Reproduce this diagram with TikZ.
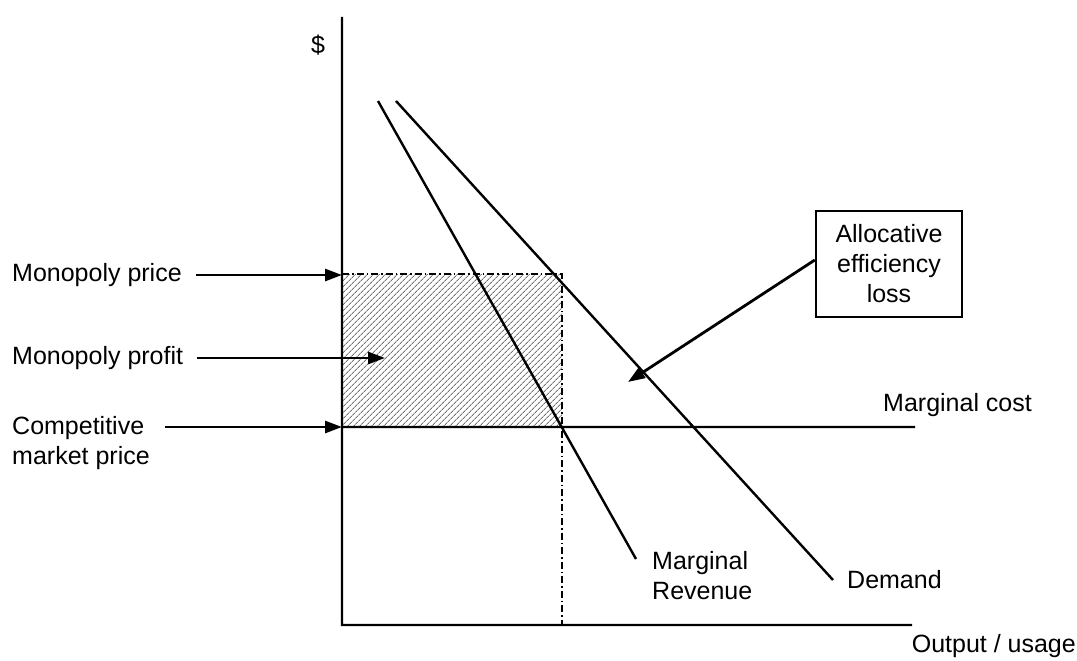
\documentclass[tikz,border=0pt]{standalone}
\usepackage{fontspec}
\setmainfont{Liberation Sans}
\usetikzlibrary{arrows.meta,patterns.meta,positioning}
\tikzset{
  lbl/.style={font=\fontsize{25}{30}\selectfont,inner sep=0pt,align=left},
  ptr/.style={line width=2.8pt,-{Triangle[length=17pt,width=12pt]}},
  curve/.style={line width=2.4pt},
  guide/.style={line width=1.8pt,dash pattern=on 7pt off 3pt on 1.5pt off 3pt},
}
\begin{document}
\begin{tikzpicture}[x=1pt,y=-1pt]
      \useasboundingbox(0,0)rectangle(1077,661);
      \coordinate(O)at(342,625);\coordinate(Y)at(342,17);\coordinate(X)at(912,625);
      \coordinate(Pm)at(342,274);\coordinate(Pc)at(342,427);\coordinate(Q)at(562,274);
      \coordinate(Qc)at(562,427);\coordinate(Qx)at(562,625);\coordinate(MC)at(915,427);
      \coordinate(R1)at(378,101);\coordinate(R2)at(636,559);
      \coordinate(D1)at(396,101);\coordinate(D2)at(833,580);
      \coordinate(Pf)at(385,358);\coordinate(L)at(628,382);
      % profit area
      \fill[pattern={Lines[angle=45,distance=4pt,line width=1pt]},pattern color=gray!90!black](Pm)rectangle(Qc);
      \draw[guide](Pm)--(Q)--(Qx);
      \draw[curve](Y)--(O)--(X) (Pc)--(MC) (R1)--(R2) (D1)--(D2);
      % labels
      \node[lbl](dol)at(318,45){\$};
      \node[lbl,anchor=west](mp)at(12,275){Monopoly price};
      \node[lbl,anchor=west](mpf)at(12,358){Monopoly profit};
      \node[lbl,anchor=west](cmp)at(12,443){Competitive\\market price};
      \node[lbl,anchor=west](mc)at(883,405){Marginal cost};
      \node[lbl,anchor=west](mr)at(652,576){Marginal\\Revenue};
      \node[lbl,anchor=west](dem)at(847,580){Demand};
      \node[lbl,anchor=east](out)at(1076,646){Output / usage};
      \node[lbl,align=center,draw,line width=2.4pt,minimum width=146pt,minimum height=106pt](ael)at(889,264){Allocative\\efficiency\\loss};
      \draw[ptr]([xshift=14pt]mp.east)--(mp.east-|Pm);
      \draw[ptr]([xshift=14pt]mpf.east)--(Pf);
      \draw[ptr]([xshift=15pt]cmp.east|-Pc)--(Pc);
      \draw[ptr]([yshift=4pt]ael.west)--(L);
    \end{tikzpicture}
\end{document}
